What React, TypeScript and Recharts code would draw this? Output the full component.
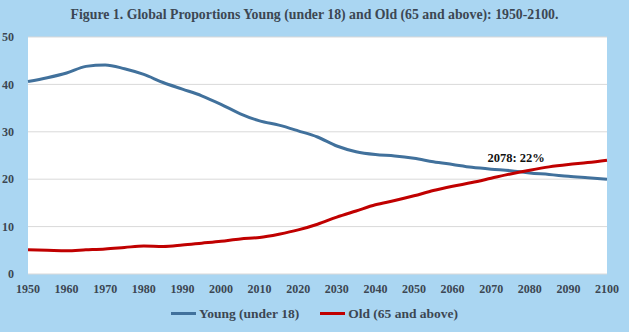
import React from 'react';
import { LineChart, Line, XAxis, YAxis, CartesianGrid, Legend, ReferenceDot } from 'recharts';

// Share of world population, percent, by year
const years = [
  1950, 1955, 1960, 1965, 1970, 1975, 1980, 1985, 1990, 1995, 2000, 2005, 2010, 2015, 2020, 2025,
  2030, 2035, 2040, 2045, 2050, 2055, 2060, 2065, 2070, 2075, 2080, 2085, 2090, 2095, 2100,
];
const young = [
  40.6, 41.4, 42.4, 43.8, 44.1, 43.3, 42.1, 40.4, 39.0, 37.6, 35.8, 33.8, 32.3, 31.4, 30.2, 28.9,
  27.0, 25.8, 25.2, 24.9, 24.4, 23.7, 23.1, 22.5, 22.1, 21.8, 21.3, 21.0, 20.6, 20.3, 20.0,
];
const old = [
  5.1, 5.0, 4.9, 5.1, 5.3, 5.6, 5.9, 5.8, 6.1, 6.5, 6.9, 7.4, 7.7, 8.4, 9.3, 10.5,
  12.0, 13.3, 14.6, 15.5, 16.5, 17.6, 18.5, 19.3, 20.2, 21.1, 21.9, 22.6, 23.1, 23.5, 24.0,
];
const xTicks = [1950, 1960, 1970, 1980, 1990, 2000, 2010, 2020, 2030, 2040, 2050, 2060, 2070, 2080, 2090, 2100];
const yTicks = [0, 10, 20, 30, 40, 50];
const crossover = { year: 2078, pct: 22 };

const data = years.map((year, i) => ({ year, young: young[i], old: old[i] }));

const FONT = 'Liberation Serif, Times New Roman, serif';
const TEXT = '#3c4753';
const BLUE = '#41719c';
const RED = '#c00000';

const legendItems = [
  { label: 'Young (under 18)', color: BLUE },
  { label: 'Old (65 and above)', color: RED },
];

const ChartLegend = () => (
  <div style={{ display: 'flex', justifyContent: 'center', gap: 21, height: 34, alignItems: 'center', paddingTop: 5, paddingLeft: 22, boxSizing: 'border-box' }}>
    {legendItems.map((item) => (
      <div key={item.label} style={{ display: 'flex', alignItems: 'center', fontFamily: FONT, fontWeight: 'bold', fontSize: 13.5, color: TEXT }}>
        <span style={{ display: 'inline-block', width: 25, height: 3, background: item.color, marginRight: 3 }} />
        {item.label}
      </div>
    ))}
  </div>
);

const App: React.FC = () => {
  return (
    <div style={{ position: 'absolute', left: 0, top: 0, width: 629, height: 332, background: '#aad6f2' }}>
      <div style={{ position: 'absolute', top: 7, width: '100%', textAlign: 'center', fontFamily: FONT, fontWeight: 'bold', fontSize: 13.8, color: TEXT }}>
        Figure 1. Global Proportions Young (under 18) and Old (65 and above): 1950-2100.
      </div>
      <LineChart width={629} height={332} data={data} margin={{ top: 37, right: 22, bottom: 4, left: 0 }}>
        <CartesianGrid vertical={false} stroke="#d9d9d9" fill="#ffffff" />
        <XAxis
          dataKey="year"
          type="number"
          domain={[1950, 2100]}
          ticks={xTicks}
          height={20}
          axisLine={false}
          tickLine={false}
          tick={{ fontFamily: FONT, fontWeight: 'bold', fontSize: 12, fill: TEXT }}
          dy={2}
        />
        <YAxis
          domain={[0, 50]}
          ticks={yTicks}
          width={28}
          axisLine={false}
          tickLine={false}
          tick={{ fontFamily: FONT, fontWeight: 'bold', fontSize: 12, fill: TEXT }}
          dx={-6}
        />
        <Legend verticalAlign="bottom" height={34} content={() => <ChartLegend />} />
        <Line type="monotone" dataKey="young" stroke={BLUE} strokeWidth={3} dot={false} isAnimationActive={false} />
        <Line type="monotone" dataKey="old" stroke={RED} strokeWidth={3} dot={false} isAnimationActive={false} />
        <ReferenceDot
          x={crossover.year}
          y={crossover.pct}
          r={0}
          label={{
            value: `${crossover.year}: ${crossover.pct}%`,
            position: 'top',
            offset: 8,
            dx: -6,
            fontFamily: FONT,
            fontWeight: 'bold',
            fontSize: 12.5,
            fill: '#111111',
          }}
        />
      </LineChart>
    </div>
  );
};

export default App;
